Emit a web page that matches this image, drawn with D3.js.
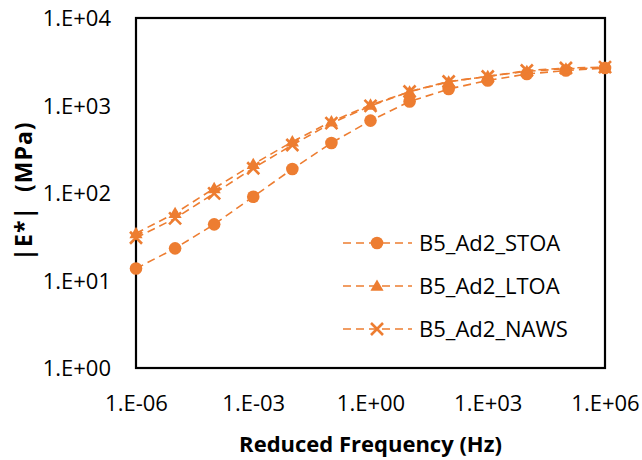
<!DOCTYPE html>
<html>
<head>
<meta charset="utf-8">
<script src="https://cdn.jsdelivr.net/npm/d3@7"></script>
<style>
  body { margin: 0; background: #fff; }
  text { font-family: "Open Sans", sans-serif; fill: #000; }
</style>
</head>
<body>
<script>
// reduced frequency (Hz), one point per decade
var freqs = [1e-6, 1e-5, 1e-4, 1e-3, 1e-2, 1e-1, 1, 10, 100, 1e3, 1e4, 1e5, 1e6];

var stoa = [13.7, 23.3, 43.8, 90.7, 188, 373, 672, 1110, 1544, 1930, 2290, 2510, 2680];
var ltoa = [34.6, 58.6, 113, 213, 386, 655, 1017, 1433, 1866, 2157, 2460, 2628, 2700];
var naws = [30.8, 51.3, 99, 192, 354, 628, 991, 1445, 1880, 2145, 2512, 2680, 2750];

var seriesNames = ["B5_Ad2_STOA", "B5_Ad2_LTOA", "B5_Ad2_NAWS"];
var seriesMarkers = ["circle", "triangle", "cross"];

var xTicks = [1e-6, 1e-3, 1, 1e3, 1e6];
var xTickLabels = ["1.E-06", "1.E-03", "1.E+00", "1.E+03", "1.E+06"];
var yTicks = [1, 10, 100, 1000, 10000];
var yTickLabels = ["1.E+00", "1.E+01", "1.E+02", "1.E+03", "1.E+04"];

function init(){
    var w = 642;
    var h = 460;
    var margin = {top: 18, right: 37, bottom: 92, left: 136};
    var orange = "#ED7D31";

    var svg = d3.select("body")
                .append("svg")
                .attr("width", w)
                .attr("height", h);

    var x = d3.scaleLog()
              .domain([1e-6, 1e6])
              .range([margin.left, w - margin.right]);
    var y = d3.scaleLog()
              .domain([1, 1e4])
              .range([h - margin.bottom, margin.top]);

    // tick labels (no tick marks in the original)
    var xAxis = d3.axisBottom(x)
                  .tickValues(xTicks)
                  .tickSize(0)
                  .tickPadding(26)
                  .tickFormat(function(d, i){ return xTickLabels[i]; });
    var gx = svg.append("g")
       .attr("transform", "translate(0," + (h - margin.bottom) + ")")
       .call(xAxis);
    gx.select(".domain").remove();
    gx.selectAll("text").style("font-size", "22px").attr("dy", "0.75em");

    var yAxis = d3.axisLeft(y)
                  .tickValues(yTicks)
                  .tickSize(0)
                  .tickPadding(25)
                  .tickFormat(function(d, i){ return yTickLabels[i]; });
    var gy = svg.append("g")
       .attr("transform", "translate(" + margin.left + ",0)")
       .call(yAxis);
    gy.select(".domain").remove();
    gy.selectAll("text").style("font-size", "22px").attr("dy", "0.35em");

    // plot border
    svg.append("rect")
       .attr("x", margin.left)
       .attr("y", margin.top)
       .attr("width", w - margin.left - margin.right)
       .attr("height", h - margin.top - margin.bottom)
       .attr("fill", "none")
       .attr("stroke", "#000")
       .attr("stroke-width", 2.2);

    var line = d3.line()
                 .x(function(d){ return x(d.f); })
                 .y(function(d){ return y(d.v); });

    var triangle = d3.symbol().type(d3.symbolTriangle).size(75);

    function drawMarker(g, type, cx, cy){
        if (type === "circle") {
            g.append("circle").attr("cx", cx).attr("cy", cy).attr("r", 6.3)
             .attr("fill", orange);
        } else if (type === "triangle") {
            g.append("path").attr("d", triangle())
             .attr("transform", "translate(" + cx + "," + (cy + 1) + ")")
             .attr("fill", orange);
        } else {
            var s = 6;
            g.append("path")
             .attr("d", "M" + (cx - s) + "," + (cy - s) + "L" + (cx + s) + "," + (cy + s) +
                        "M" + (cx - s) + "," + (cy + s) + "L" + (cx + s) + "," + (cy - s))
             .attr("stroke", orange).attr("stroke-width", 2.6).attr("fill", "none");
        }
    }

    var allSeries = [stoa, ltoa, naws];
    allSeries.forEach(function(vals, si){
        var pts = freqs.map(function(f, i){ return {f: f, v: vals[i]}; });
        var g = svg.append("g");
        g.append("path")
         .datum(pts)
         .attr("d", line)
         .attr("fill", "none")
         .attr("stroke", orange)
         .attr("stroke-width", 1.6)
         .attr("stroke-dasharray", "8,5");
        pts.forEach(function(p){
            drawMarker(g, seriesMarkers[si], x(p.f), y(p.v));
        });
    });

    // legend
    var legend = svg.append("g");
    seriesNames.forEach(function(name, i){
        var ly = 243 + i * 43;
        var lg = legend.append("g");
        lg.append("line")
          .attr("x1", 343).attr("x2", 412)
          .attr("y1", ly).attr("y2", ly)
          .attr("stroke", orange)
          .attr("stroke-width", 1.6)
          .attr("stroke-dasharray", "8,5");
        drawMarker(lg, seriesMarkers[i], 377, ly);
        lg.append("text")
          .attr("x", 419)
          .attr("y", ly)
          .attr("dy", "0.35em")
          .style("font-size", "22px")
          .text(name);
    });

    // axis titles
    svg.append("text")
       .attr("x", (margin.left + w - margin.right) / 2)
       .attr("y", 444)
       .attr("dy", "0.35em")
       .attr("text-anchor", "middle")
       .style("font-size", "22px")
       .style("font-weight", "bold")
       .text("Reduced Frequency (Hz)");

    svg.append("text")
       .attr("transform", "translate(24,191) rotate(-90)")
       .attr("dy", "0.35em")
       .attr("text-anchor", "middle")
       .style("font-size", "23px")
       .style("font-weight", "bold")
       .style("white-space", "pre")
       .style("letter-spacing", "1px")
       .text("|E*|  (MPa)");
}
window.onload = init;
</script>
</body>
</html>
